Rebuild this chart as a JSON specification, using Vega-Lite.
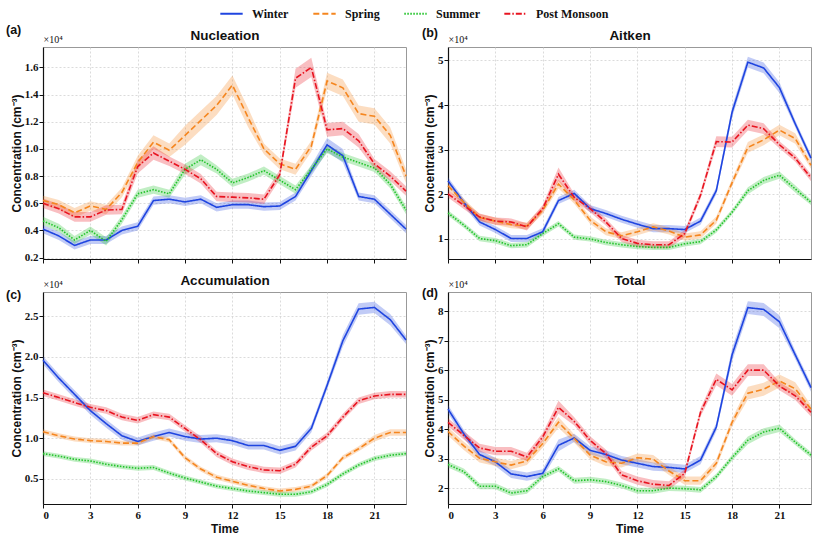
{
"$schema":"https://vega.github.io/schema/vega-lite/v6.json",
"padding":{"left":5,"top":1,"right":0,"bottom":0},
"datasets":{"d":[
{"p":"a","s":"Winter","h":0,"v":0.41,"e":0.03},{"p":"a","s":"Winter","h":1,"v":0.36,"e":0.03},{"p":"a","s":"Winter","h":2,"v":0.29,"e":0.03},{"p":"a","s":"Winter","h":3,"v":0.33,"e":0.03},{"p":"a","s":"Winter","h":4,"v":0.33,"e":0.03},{"p":"a","s":"Winter","h":5,"v":0.40,"e":0.03},{"p":"a","s":"Winter","h":6,"v":0.43,"e":0.03},{"p":"a","s":"Winter","h":7,"v":0.62,"e":0.03},{"p":"a","s":"Winter","h":8,"v":0.63,"e":0.03},{"p":"a","s":"Winter","h":9,"v":0.61,"e":0.03},{"p":"a","s":"Winter","h":10,"v":0.63,"e":0.03},{"p":"a","s":"Winter","h":11,"v":0.57,"e":0.03},{"p":"a","s":"Winter","h":12,"v":0.59,"e":0.03},{"p":"a","s":"Winter","h":13,"v":0.59,"e":0.03},{"p":"a","s":"Winter","h":14,"v":0.575,"e":0.03},{"p":"a","s":"Winter","h":15,"v":0.58,"e":0.03},{"p":"a","s":"Winter","h":16,"v":0.65,"e":0.03},{"p":"a","s":"Winter","h":17,"v":0.84,"e":0.04},{"p":"a","s":"Winter","h":18,"v":1.03,"e":0.05},{"p":"a","s":"Winter","h":19,"v":0.95,"e":0.05},{"p":"a","s":"Winter","h":20,"v":0.65,"e":0.03},{"p":"a","s":"Winter","h":21,"v":0.63,"e":0.03},{"p":"a","s":"Winter","h":22,"v":0.52,"e":0.03},{"p":"a","s":"Winter","h":23,"v":0.41,"e":0.03},
{"p":"a","s":"Spring","h":0,"v":0.62,"e":0.035},{"p":"a","s":"Spring","h":1,"v":0.59,"e":0.035},{"p":"a","s":"Spring","h":2,"v":0.53,"e":0.035},{"p":"a","s":"Spring","h":3,"v":0.58,"e":0.035},{"p":"a","s":"Spring","h":4,"v":0.555,"e":0.035},{"p":"a","s":"Spring","h":5,"v":0.68,"e":0.035},{"p":"a","s":"Spring","h":6,"v":0.90,"e":0.05},{"p":"a","s":"Spring","h":7,"v":1.05,"e":0.05},{"p":"a","s":"Spring","h":8,"v":0.99,"e":0.05},{"p":"a","s":"Spring","h":9,"v":1.10,"e":0.07},{"p":"a","s":"Spring","h":10,"v":1.21,"e":0.07},{"p":"a","s":"Spring","h":11,"v":1.32,"e":0.07},{"p":"a","s":"Spring","h":12,"v":1.47,"e":0.07},{"p":"a","s":"Spring","h":13,"v":1.23,"e":0.07},{"p":"a","s":"Spring","h":14,"v":1.00,"e":0.04},{"p":"a","s":"Spring","h":15,"v":0.89,"e":0.04},{"p":"a","s":"Spring","h":16,"v":0.85,"e":0.04},{"p":"a","s":"Spring","h":17,"v":1.02,"e":0.04},{"p":"a","s":"Spring","h":18,"v":1.50,"e":0.06},{"p":"a","s":"Spring","h":19,"v":1.45,"e":0.06},{"p":"a","s":"Spring","h":20,"v":1.26,"e":0.06},{"p":"a","s":"Spring","h":21,"v":1.24,"e":0.06},{"p":"a","s":"Spring","h":22,"v":1.10,"e":0.06},{"p":"a","s":"Spring","h":23,"v":0.80,"e":0.05},
{"p":"a","s":"Summer","h":0,"v":0.47,"e":0.03},{"p":"a","s":"Summer","h":1,"v":0.42,"e":0.03},{"p":"a","s":"Summer","h":2,"v":0.33,"e":0.03},{"p":"a","s":"Summer","h":3,"v":0.40,"e":0.03},{"p":"a","s":"Summer","h":4,"v":0.32,"e":0.03},{"p":"a","s":"Summer","h":5,"v":0.48,"e":0.03},{"p":"a","s":"Summer","h":6,"v":0.67,"e":0.03},{"p":"a","s":"Summer","h":7,"v":0.70,"e":0.03},{"p":"a","s":"Summer","h":8,"v":0.67,"e":0.03},{"p":"a","s":"Summer","h":9,"v":0.85,"e":0.04},{"p":"a","s":"Summer","h":10,"v":0.92,"e":0.04},{"p":"a","s":"Summer","h":11,"v":0.85,"e":0.03},{"p":"a","s":"Summer","h":12,"v":0.75,"e":0.03},{"p":"a","s":"Summer","h":13,"v":0.79,"e":0.03},{"p":"a","s":"Summer","h":14,"v":0.84,"e":0.03},{"p":"a","s":"Summer","h":15,"v":0.77,"e":0.03},{"p":"a","s":"Summer","h":16,"v":0.70,"e":0.03},{"p":"a","s":"Summer","h":17,"v":0.85,"e":0.03},{"p":"a","s":"Summer","h":18,"v":1.00,"e":0.03},{"p":"a","s":"Summer","h":19,"v":0.94,"e":0.03},{"p":"a","s":"Summer","h":20,"v":0.90,"e":0.03},{"p":"a","s":"Summer","h":21,"v":0.86,"e":0.03},{"p":"a","s":"Summer","h":22,"v":0.74,"e":0.03},{"p":"a","s":"Summer","h":23,"v":0.55,"e":0.03},
{"p":"a","s":"Post Monsoon","h":0,"v":0.60,"e":0.035},{"p":"a","s":"Post Monsoon","h":1,"v":0.56,"e":0.035},{"p":"a","s":"Post Monsoon","h":2,"v":0.50,"e":0.035},{"p":"a","s":"Post Monsoon","h":3,"v":0.50,"e":0.035},{"p":"a","s":"Post Monsoon","h":4,"v":0.55,"e":0.035},{"p":"a","s":"Post Monsoon","h":5,"v":0.555,"e":0.035},{"p":"a","s":"Post Monsoon","h":6,"v":0.87,"e":0.05},{"p":"a","s":"Post Monsoon","h":7,"v":0.97,"e":0.05},{"p":"a","s":"Post Monsoon","h":8,"v":0.91,"e":0.035},{"p":"a","s":"Post Monsoon","h":9,"v":0.85,"e":0.035},{"p":"a","s":"Post Monsoon","h":10,"v":0.78,"e":0.035},{"p":"a","s":"Post Monsoon","h":11,"v":0.65,"e":0.035},{"p":"a","s":"Post Monsoon","h":12,"v":0.645,"e":0.035},{"p":"a","s":"Post Monsoon","h":13,"v":0.64,"e":0.035},{"p":"a","s":"Post Monsoon","h":14,"v":0.63,"e":0.035},{"p":"a","s":"Post Monsoon","h":15,"v":0.81,"e":0.035},{"p":"a","s":"Post Monsoon","h":16,"v":1.52,"e":0.07},{"p":"a","s":"Post Monsoon","h":17,"v":1.60,"e":0.07},{"p":"a","s":"Post Monsoon","h":18,"v":1.14,"e":0.05},{"p":"a","s":"Post Monsoon","h":19,"v":1.15,"e":0.05},{"p":"a","s":"Post Monsoon","h":20,"v":1.06,"e":0.05},{"p":"a","s":"Post Monsoon","h":21,"v":0.89,"e":0.035},{"p":"a","s":"Post Monsoon","h":22,"v":0.80,"e":0.035},{"p":"a","s":"Post Monsoon","h":23,"v":0.69,"e":0.035},
{"p":"b","s":"Winter","h":0,"v":2.30,"e":0.08},{"p":"b","s":"Winter","h":1,"v":1.82,"e":0.08},{"p":"b","s":"Winter","h":2,"v":1.38,"e":0.08},{"p":"b","s":"Winter","h":3,"v":1.21,"e":0.08},{"p":"b","s":"Winter","h":4,"v":1.01,"e":0.08},{"p":"b","s":"Winter","h":5,"v":1.01,"e":0.08},{"p":"b","s":"Winter","h":6,"v":1.16,"e":0.08},{"p":"b","s":"Winter","h":7,"v":1.86,"e":0.08},{"p":"b","s":"Winter","h":8,"v":2.02,"e":0.08},{"p":"b","s":"Winter","h":9,"v":1.68,"e":0.08},{"p":"b","s":"Winter","h":10,"v":1.57,"e":0.08},{"p":"b","s":"Winter","h":11,"v":1.44,"e":0.08},{"p":"b","s":"Winter","h":12,"v":1.33,"e":0.08},{"p":"b","s":"Winter","h":13,"v":1.23,"e":0.08},{"p":"b","s":"Winter","h":14,"v":1.23,"e":0.08},{"p":"b","s":"Winter","h":15,"v":1.21,"e":0.08},{"p":"b","s":"Winter","h":16,"v":1.40,"e":0.08},{"p":"b","s":"Winter","h":17,"v":2.08,"e":0.08},{"p":"b","s":"Winter","h":18,"v":3.84,"e":0.12},{"p":"b","s":"Winter","h":19,"v":4.96,"e":0.12},{"p":"b","s":"Winter","h":20,"v":4.83,"e":0.12},{"p":"b","s":"Winter","h":21,"v":4.39,"e":0.12},{"p":"b","s":"Winter","h":22,"v":3.58,"e":0.08},{"p":"b","s":"Winter","h":23,"v":2.81,"e":0.08},
{"p":"b","s":"Spring","h":0,"v":2.19,"e":0.08},{"p":"b","s":"Spring","h":1,"v":1.82,"e":0.08},{"p":"b","s":"Spring","h":2,"v":1.48,"e":0.08},{"p":"b","s":"Spring","h":3,"v":1.40,"e":0.08},{"p":"b","s":"Spring","h":4,"v":1.32,"e":0.08},{"p":"b","s":"Spring","h":5,"v":1.29,"e":0.08},{"p":"b","s":"Spring","h":6,"v":1.64,"e":0.08},{"p":"b","s":"Spring","h":7,"v":2.23,"e":0.1},{"p":"b","s":"Spring","h":8,"v":1.87,"e":0.08},{"p":"b","s":"Spring","h":9,"v":1.42,"e":0.08},{"p":"b","s":"Spring","h":10,"v":1.16,"e":0.08},{"p":"b","s":"Spring","h":11,"v":1.07,"e":0.08},{"p":"b","s":"Spring","h":12,"v":1.16,"e":0.08},{"p":"b","s":"Spring","h":13,"v":1.27,"e":0.08},{"p":"b","s":"Spring","h":14,"v":1.18,"e":0.08},{"p":"b","s":"Spring","h":15,"v":1.04,"e":0.08},{"p":"b","s":"Spring","h":16,"v":1.09,"e":0.08},{"p":"b","s":"Spring","h":17,"v":1.42,"e":0.08},{"p":"b","s":"Spring","h":18,"v":2.26,"e":0.08},{"p":"b","s":"Spring","h":19,"v":3.05,"e":0.12},{"p":"b","s":"Spring","h":20,"v":3.22,"e":0.12},{"p":"b","s":"Spring","h":21,"v":3.44,"e":0.12},{"p":"b","s":"Spring","h":22,"v":3.25,"e":0.12},{"p":"b","s":"Spring","h":23,"v":2.65,"e":0.08},
{"p":"b","s":"Summer","h":0,"v":1.58,"e":0.06},{"p":"b","s":"Summer","h":1,"v":1.31,"e":0.06},{"p":"b","s":"Summer","h":2,"v":1.01,"e":0.06},{"p":"b","s":"Summer","h":3,"v":0.96,"e":0.06},{"p":"b","s":"Summer","h":4,"v":0.85,"e":0.06},{"p":"b","s":"Summer","h":5,"v":0.87,"e":0.06},{"p":"b","s":"Summer","h":6,"v":1.12,"e":0.06},{"p":"b","s":"Summer","h":7,"v":1.34,"e":0.06},{"p":"b","s":"Summer","h":8,"v":1.04,"e":0.06},{"p":"b","s":"Summer","h":9,"v":1.00,"e":0.06},{"p":"b","s":"Summer","h":10,"v":0.92,"e":0.06},{"p":"b","s":"Summer","h":11,"v":0.87,"e":0.06},{"p":"b","s":"Summer","h":12,"v":0.83,"e":0.06},{"p":"b","s":"Summer","h":13,"v":0.81,"e":0.06},{"p":"b","s":"Summer","h":14,"v":0.81,"e":0.06},{"p":"b","s":"Summer","h":15,"v":0.89,"e":0.06},{"p":"b","s":"Summer","h":16,"v":0.94,"e":0.06},{"p":"b","s":"Summer","h":17,"v":1.20,"e":0.06},{"p":"b","s":"Summer","h":18,"v":1.60,"e":0.06},{"p":"b","s":"Summer","h":19,"v":2.08,"e":0.08},{"p":"b","s":"Summer","h":20,"v":2.31,"e":0.08},{"p":"b","s":"Summer","h":21,"v":2.43,"e":0.08},{"p":"b","s":"Summer","h":22,"v":2.12,"e":0.08},{"p":"b","s":"Summer","h":23,"v":1.82,"e":0.06},
{"p":"b","s":"Post Monsoon","h":0,"v":2.01,"e":0.08},{"p":"b","s":"Post Monsoon","h":1,"v":1.75,"e":0.08},{"p":"b","s":"Post Monsoon","h":2,"v":1.49,"e":0.08},{"p":"b","s":"Post Monsoon","h":3,"v":1.40,"e":0.08},{"p":"b","s":"Post Monsoon","h":4,"v":1.38,"e":0.08},{"p":"b","s":"Post Monsoon","h":5,"v":1.27,"e":0.08},{"p":"b","s":"Post Monsoon","h":6,"v":1.68,"e":0.08},{"p":"b","s":"Post Monsoon","h":7,"v":2.45,"e":0.15},{"p":"b","s":"Post Monsoon","h":8,"v":1.93,"e":0.08},{"p":"b","s":"Post Monsoon","h":9,"v":1.68,"e":0.08},{"p":"b","s":"Post Monsoon","h":10,"v":1.38,"e":0.08},{"p":"b","s":"Post Monsoon","h":11,"v":1.01,"e":0.08},{"p":"b","s":"Post Monsoon","h":12,"v":0.90,"e":0.08},{"p":"b","s":"Post Monsoon","h":13,"v":0.87,"e":0.08},{"p":"b","s":"Post Monsoon","h":14,"v":0.87,"e":0.08},{"p":"b","s":"Post Monsoon","h":15,"v":1.12,"e":0.08},{"p":"b","s":"Post Monsoon","h":16,"v":1.98,"e":0.08},{"p":"b","s":"Post Monsoon","h":17,"v":3.18,"e":0.12},{"p":"b","s":"Post Monsoon","h":18,"v":3.17,"e":0.12},{"p":"b","s":"Post Monsoon","h":19,"v":3.55,"e":0.12},{"p":"b","s":"Post Monsoon","h":20,"v":3.47,"e":0.12},{"p":"b","s":"Post Monsoon","h":21,"v":3.11,"e":0.08},{"p":"b","s":"Post Monsoon","h":22,"v":2.81,"e":0.08},{"p":"b","s":"Post Monsoon","h":23,"v":2.37,"e":0.08},
{"p":"c","s":"Winter","h":0,"v":1.96,"e":0.05},{"p":"c","s":"Winter","h":1,"v":1.74,"e":0.05},{"p":"c","s":"Winter","h":2,"v":1.54,"e":0.05},{"p":"c","s":"Winter","h":3,"v":1.34,"e":0.05},{"p":"c","s":"Winter","h":4,"v":1.18,"e":0.05},{"p":"c","s":"Winter","h":5,"v":1.03,"e":0.05},{"p":"c","s":"Winter","h":6,"v":0.96,"e":0.05},{"p":"c","s":"Winter","h":7,"v":1.02,"e":0.05},{"p":"c","s":"Winter","h":8,"v":1.07,"e":0.05},{"p":"c","s":"Winter","h":9,"v":1.02,"e":0.05},{"p":"c","s":"Winter","h":10,"v":0.99,"e":0.05},{"p":"c","s":"Winter","h":11,"v":1.00,"e":0.05},{"p":"c","s":"Winter","h":12,"v":0.97,"e":0.05},{"p":"c","s":"Winter","h":13,"v":0.91,"e":0.05},{"p":"c","s":"Winter","h":14,"v":0.91,"e":0.05},{"p":"c","s":"Winter","h":15,"v":0.85,"e":0.05},{"p":"c","s":"Winter","h":16,"v":0.90,"e":0.05},{"p":"c","s":"Winter","h":17,"v":1.12,"e":0.05},{"p":"c","s":"Winter","h":18,"v":1.65,"e":0.05},{"p":"c","s":"Winter","h":19,"v":2.20,"e":0.07},{"p":"c","s":"Winter","h":20,"v":2.59,"e":0.07},{"p":"c","s":"Winter","h":21,"v":2.61,"e":0.07},{"p":"c","s":"Winter","h":22,"v":2.46,"e":0.07},{"p":"c","s":"Winter","h":23,"v":2.21,"e":0.05},
{"p":"c","s":"Spring","h":0,"v":1.08,"e":0.03},{"p":"c","s":"Spring","h":1,"v":1.03,"e":0.03},{"p":"c","s":"Spring","h":2,"v":0.99,"e":0.03},{"p":"c","s":"Spring","h":3,"v":0.97,"e":0.03},{"p":"c","s":"Spring","h":4,"v":0.96,"e":0.03},{"p":"c","s":"Spring","h":5,"v":0.94,"e":0.03},{"p":"c","s":"Spring","h":6,"v":0.94,"e":0.03},{"p":"c","s":"Spring","h":7,"v":1.02,"e":0.03},{"p":"c","s":"Spring","h":8,"v":0.98,"e":0.03},{"p":"c","s":"Spring","h":9,"v":0.76,"e":0.03},{"p":"c","s":"Spring","h":10,"v":0.62,"e":0.03},{"p":"c","s":"Spring","h":11,"v":0.52,"e":0.03},{"p":"c","s":"Spring","h":12,"v":0.47,"e":0.03},{"p":"c","s":"Spring","h":13,"v":0.42,"e":0.03},{"p":"c","s":"Spring","h":14,"v":0.38,"e":0.03},{"p":"c","s":"Spring","h":15,"v":0.35,"e":0.03},{"p":"c","s":"Spring","h":16,"v":0.37,"e":0.03},{"p":"c","s":"Spring","h":17,"v":0.41,"e":0.03},{"p":"c","s":"Spring","h":18,"v":0.54,"e":0.03},{"p":"c","s":"Spring","h":19,"v":0.76,"e":0.03},{"p":"c","s":"Spring","h":20,"v":0.87,"e":0.03},{"p":"c","s":"Spring","h":21,"v":1.00,"e":0.04},{"p":"c","s":"Spring","h":22,"v":1.07,"e":0.04},{"p":"c","s":"Spring","h":23,"v":1.07,"e":0.04},
{"p":"c","s":"Summer","h":0,"v":0.81,"e":0.03},{"p":"c","s":"Summer","h":1,"v":0.78,"e":0.03},{"p":"c","s":"Summer","h":2,"v":0.74,"e":0.03},{"p":"c","s":"Summer","h":3,"v":0.72,"e":0.03},{"p":"c","s":"Summer","h":4,"v":0.68,"e":0.03},{"p":"c","s":"Summer","h":5,"v":0.65,"e":0.03},{"p":"c","s":"Summer","h":6,"v":0.63,"e":0.03},{"p":"c","s":"Summer","h":7,"v":0.64,"e":0.03},{"p":"c","s":"Summer","h":8,"v":0.57,"e":0.03},{"p":"c","s":"Summer","h":9,"v":0.51,"e":0.03},{"p":"c","s":"Summer","h":10,"v":0.46,"e":0.03},{"p":"c","s":"Summer","h":11,"v":0.41,"e":0.03},{"p":"c","s":"Summer","h":12,"v":0.38,"e":0.03},{"p":"c","s":"Summer","h":13,"v":0.35,"e":0.03},{"p":"c","s":"Summer","h":14,"v":0.33,"e":0.03},{"p":"c","s":"Summer","h":15,"v":0.31,"e":0.03},{"p":"c","s":"Summer","h":16,"v":0.31,"e":0.03},{"p":"c","s":"Summer","h":17,"v":0.34,"e":0.03},{"p":"c","s":"Summer","h":18,"v":0.43,"e":0.03},{"p":"c","s":"Summer","h":19,"v":0.56,"e":0.03},{"p":"c","s":"Summer","h":20,"v":0.67,"e":0.03},{"p":"c","s":"Summer","h":21,"v":0.75,"e":0.03},{"p":"c","s":"Summer","h":22,"v":0.79,"e":0.03},{"p":"c","s":"Summer","h":23,"v":0.81,"e":0.03},
{"p":"c","s":"Post Monsoon","h":0,"v":1.56,"e":0.04},{"p":"c","s":"Post Monsoon","h":1,"v":1.50,"e":0.04},{"p":"c","s":"Post Monsoon","h":2,"v":1.44,"e":0.04},{"p":"c","s":"Post Monsoon","h":3,"v":1.38,"e":0.04},{"p":"c","s":"Post Monsoon","h":4,"v":1.34,"e":0.04},{"p":"c","s":"Post Monsoon","h":5,"v":1.26,"e":0.04},{"p":"c","s":"Post Monsoon","h":6,"v":1.22,"e":0.04},{"p":"c","s":"Post Monsoon","h":7,"v":1.29,"e":0.04},{"p":"c","s":"Post Monsoon","h":8,"v":1.26,"e":0.04},{"p":"c","s":"Post Monsoon","h":9,"v":1.12,"e":0.04},{"p":"c","s":"Post Monsoon","h":10,"v":0.98,"e":0.04},{"p":"c","s":"Post Monsoon","h":11,"v":0.81,"e":0.04},{"p":"c","s":"Post Monsoon","h":12,"v":0.71,"e":0.04},{"p":"c","s":"Post Monsoon","h":13,"v":0.65,"e":0.04},{"p":"c","s":"Post Monsoon","h":14,"v":0.61,"e":0.04},{"p":"c","s":"Post Monsoon","h":15,"v":0.60,"e":0.04},{"p":"c","s":"Post Monsoon","h":16,"v":0.68,"e":0.04},{"p":"c","s":"Post Monsoon","h":17,"v":0.89,"e":0.04},{"p":"c","s":"Post Monsoon","h":18,"v":1.03,"e":0.04},{"p":"c","s":"Post Monsoon","h":19,"v":1.26,"e":0.04},{"p":"c","s":"Post Monsoon","h":20,"v":1.46,"e":0.04},{"p":"c","s":"Post Monsoon","h":21,"v":1.52,"e":0.04},{"p":"c","s":"Post Monsoon","h":22,"v":1.54,"e":0.04},{"p":"c","s":"Post Monsoon","h":23,"v":1.54,"e":0.04},
{"p":"d","s":"Winter","h":0,"v":4.68,"e":0.14},{"p":"d","s":"Winter","h":1,"v":3.84,"e":0.14},{"p":"d","s":"Winter","h":2,"v":3.14,"e":0.14},{"p":"d","s":"Winter","h":3,"v":2.89,"e":0.14},{"p":"d","s":"Winter","h":4,"v":2.48,"e":0.14},{"p":"d","s":"Winter","h":5,"v":2.39,"e":0.14},{"p":"d","s":"Winter","h":6,"v":2.50,"e":0.14},{"p":"d","s":"Winter","h":7,"v":3.45,"e":0.2},{"p":"d","s":"Winter","h":8,"v":3.70,"e":0.14},{"p":"d","s":"Winter","h":9,"v":3.28,"e":0.14},{"p":"d","s":"Winter","h":10,"v":3.14,"e":0.14},{"p":"d","s":"Winter","h":11,"v":2.95,"e":0.14},{"p":"d","s":"Winter","h":12,"v":2.84,"e":0.14},{"p":"d","s":"Winter","h":13,"v":2.73,"e":0.14},{"p":"d","s":"Winter","h":14,"v":2.70,"e":0.14},{"p":"d","s":"Winter","h":15,"v":2.65,"e":0.14},{"p":"d","s":"Winter","h":16,"v":2.95,"e":0.14},{"p":"d","s":"Winter","h":17,"v":4.07,"e":0.14},{"p":"d","s":"Winter","h":18,"v":6.52,"e":0.22},{"p":"d","s":"Winter","h":19,"v":8.12,"e":0.22},{"p":"d","s":"Winter","h":20,"v":8.06,"e":0.22},{"p":"d","s":"Winter","h":21,"v":7.64,"e":0.22},{"p":"d","s":"Winter","h":22,"v":6.52,"e":0.14},{"p":"d","s":"Winter","h":23,"v":5.41,"e":0.14},
{"p":"d","s":"Spring","h":0,"v":3.92,"e":0.14},{"p":"d","s":"Spring","h":1,"v":3.43,"e":0.14},{"p":"d","s":"Spring","h":2,"v":3.01,"e":0.14},{"p":"d","s":"Spring","h":3,"v":2.89,"e":0.14},{"p":"d","s":"Spring","h":4,"v":2.78,"e":0.14},{"p":"d","s":"Spring","h":5,"v":2.92,"e":0.14},{"p":"d","s":"Spring","h":6,"v":3.51,"e":0.14},{"p":"d","s":"Spring","h":7,"v":4.23,"e":0.18},{"p":"d","s":"Spring","h":8,"v":3.68,"e":0.14},{"p":"d","s":"Spring","h":9,"v":3.12,"e":0.14},{"p":"d","s":"Spring","h":10,"v":2.89,"e":0.14},{"p":"d","s":"Spring","h":11,"v":2.84,"e":0.14},{"p":"d","s":"Spring","h":12,"v":3.03,"e":0.14},{"p":"d","s":"Spring","h":13,"v":2.98,"e":0.14},{"p":"d","s":"Spring","h":14,"v":2.58,"e":0.14},{"p":"d","s":"Spring","h":15,"v":2.25,"e":0.14},{"p":"d","s":"Spring","h":16,"v":2.25,"e":0.14},{"p":"d","s":"Spring","h":17,"v":2.84,"e":0.14},{"p":"d","s":"Spring","h":18,"v":4.23,"e":0.14},{"p":"d","s":"Spring","h":19,"v":5.22,"e":0.22},{"p":"d","s":"Spring","h":20,"v":5.35,"e":0.22},{"p":"d","s":"Spring","h":21,"v":5.63,"e":0.22},{"p":"d","s":"Spring","h":22,"v":5.37,"e":0.22},{"p":"d","s":"Spring","h":23,"v":4.68,"e":0.14},
{"p":"d","s":"Summer","h":0,"v":2.80,"e":0.1},{"p":"d","s":"Summer","h":1,"v":2.56,"e":0.1},{"p":"d","s":"Summer","h":2,"v":2.06,"e":0.1},{"p":"d","s":"Summer","h":3,"v":2.06,"e":0.1},{"p":"d","s":"Summer","h":4,"v":1.83,"e":0.1},{"p":"d","s":"Summer","h":5,"v":1.91,"e":0.1},{"p":"d","s":"Summer","h":6,"v":2.39,"e":0.1},{"p":"d","s":"Summer","h":7,"v":2.65,"e":0.1},{"p":"d","s":"Summer","h":8,"v":2.25,"e":0.1},{"p":"d","s":"Summer","h":9,"v":2.28,"e":0.1},{"p":"d","s":"Summer","h":10,"v":2.22,"e":0.1},{"p":"d","s":"Summer","h":11,"v":2.09,"e":0.1},{"p":"d","s":"Summer","h":12,"v":1.91,"e":0.1},{"p":"d","s":"Summer","h":13,"v":1.91,"e":0.1},{"p":"d","s":"Summer","h":14,"v":2.00,"e":0.1},{"p":"d","s":"Summer","h":15,"v":1.98,"e":0.1},{"p":"d","s":"Summer","h":16,"v":1.94,"e":0.1},{"p":"d","s":"Summer","h":17,"v":2.39,"e":0.1},{"p":"d","s":"Summer","h":18,"v":3.03,"e":0.1},{"p":"d","s":"Summer","h":19,"v":3.62,"e":0.13},{"p":"d","s":"Summer","h":20,"v":3.90,"e":0.13},{"p":"d","s":"Summer","h":21,"v":4.03,"e":0.13},{"p":"d","s":"Summer","h":22,"v":3.56,"e":0.1},{"p":"d","s":"Summer","h":23,"v":3.12,"e":0.1},
{"p":"d","s":"Post Monsoon","h":0,"v":4.23,"e":0.14},{"p":"d","s":"Post Monsoon","h":1,"v":3.79,"e":0.14},{"p":"d","s":"Post Monsoon","h":2,"v":3.36,"e":0.14},{"p":"d","s":"Post Monsoon","h":3,"v":3.25,"e":0.14},{"p":"d","s":"Post Monsoon","h":4,"v":3.25,"e":0.14},{"p":"d","s":"Post Monsoon","h":5,"v":3.06,"e":0.14},{"p":"d","s":"Post Monsoon","h":6,"v":3.73,"e":0.14},{"p":"d","s":"Post Monsoon","h":7,"v":4.74,"e":0.22},{"p":"d","s":"Post Monsoon","h":8,"v":4.26,"e":0.14},{"p":"d","s":"Post Monsoon","h":9,"v":3.62,"e":0.14},{"p":"d","s":"Post Monsoon","h":10,"v":3.17,"e":0.14},{"p":"d","s":"Post Monsoon","h":11,"v":2.45,"e":0.14},{"p":"d","s":"Post Monsoon","h":12,"v":2.25,"e":0.14},{"p":"d","s":"Post Monsoon","h":13,"v":2.13,"e":0.14},{"p":"d","s":"Post Monsoon","h":14,"v":2.09,"e":0.14},{"p":"d","s":"Post Monsoon","h":15,"v":2.50,"e":0.14},{"p":"d","s":"Post Monsoon","h":16,"v":4.57,"e":0.14},{"p":"d","s":"Post Monsoon","h":17,"v":5.69,"e":0.2},{"p":"d","s":"Post Monsoon","h":18,"v":5.33,"e":0.2},{"p":"d","s":"Post Monsoon","h":19,"v":6.00,"e":0.2},{"p":"d","s":"Post Monsoon","h":20,"v":6.00,"e":0.2},{"p":"d","s":"Post Monsoon","h":21,"v":5.46,"e":0.14},{"p":"d","s":"Post Monsoon","h":22,"v":5.13,"e":0.14},{"p":"d","s":"Post Monsoon","h":23,"v":4.57,"e":0.14}
]},
"data":{"name":"d"},
"spacing":8,
"vconcat":[
{"hconcat":[
{"width":363,"height":212,
 "title":{"text":"(a)","anchor":"start","frame":"group","dx":-37,"offset":-8},
 "transform":[{"filter":"datum.p === 'a'"}],
 "layer":[
  {"mark":{"type":"errorband","opacity":0.28},
   "encoding":{
    "x":{"field":"h","type":"quantitative","scale":{"domain":[0,23],"nice":false,"zero":false},"axis":{"values":[0,3,6,9,12,15,18,21],"labels":false,"title":null,"grid":true}},
    "y":{"field":"v","type":"quantitative","scale":{"domain":[0.19,1.75],"nice":false,"zero":false},"axis":{"values":[0.2,0.4,0.6,0.8,1.0,1.2,1.4,1.6],"format":".1f","title":"Concentration (cm⁻³)","grid":true}},
    "yError":{"field":"e"},
    "color":{"field":"s","type":"nominal","scale":{"domain":["Winter","Spring","Summer","Post Monsoon"],"range":["#1f45e0","#f5861f","#22c32a","#e81420"]},"legend":{"title":null,"symbolType":"stroke","symbolOpacity":1}}}},
  {"mark":{"type":"line","strokeWidth":1.6},
   "encoding":{
    "x":{"field":"h","type":"quantitative","axis":{"orient":"top","title":"Nucleation","labels":false,"ticks":false,"domain":false,"grid":false,"titleFontSize":13.5,"titlePadding":5}},
    "y":{"field":"v","type":"quantitative","axis":{"orient":"right","title":"×10⁴","labels":false,"ticks":false,"domain":false,"grid":false,"titleAngle":0,"titleX":-363,"titleY":-3,"titleAlign":"left","titleBaseline":"bottom","titleFont":"Liberation Serif","titleFontSize":10,"titleFontWeight":"normal"}},
    "color":{"field":"s","type":"nominal","scale":{"domain":["Winter","Spring","Summer","Post Monsoon"],"range":["#1f45e0","#f5861f","#22c32a","#e81420"]},"legend":{"title":null,"symbolType":"stroke","symbolOpacity":1}},
    "strokeDash":{"field":"s","type":"nominal","scale":{"domain":["Winter","Spring","Summer","Post Monsoon"],"range":[[1,0],[6,3],[1.5,1.5],[6,2,1.5,2]]},"legend":{"title":null,"symbolType":"stroke","symbolOpacity":1}}}}
 ],
 "resolve":{"axis":{"x":"independent","y":"independent"}}},
{"width":363,"height":212,
 "title":{"text":"(b)","anchor":"start","frame":"group","dx":-26,"offset":-11},
 "transform":[{"filter":"datum.p === 'b'"}],
 "layer":[
  {"mark":{"type":"errorband","opacity":0.28},
   "encoding":{
    "x":{"field":"h","type":"quantitative","scale":{"domain":[0,23],"nice":false,"zero":false},"axis":{"values":[0,3,6,9,12,15,18,21],"labels":false,"title":null,"grid":true}},
    "y":{"field":"v","type":"quantitative","scale":{"domain":[0.55,5.3],"nice":false,"zero":false},"axis":{"values":[1,2,3,4,5],"format":"d","title":"Concentration (cm⁻³)","grid":true}},
    "yError":{"field":"e"},
    "color":{"field":"s","type":"nominal","scale":{"domain":["Winter","Spring","Summer","Post Monsoon"],"range":["#1f45e0","#f5861f","#22c32a","#e81420"]},"legend":{"title":null,"symbolType":"stroke","symbolOpacity":1}}}},
  {"mark":{"type":"line","strokeWidth":1.6},
   "encoding":{
    "x":{"field":"h","type":"quantitative","axis":{"orient":"top","title":"Aitken","labels":false,"ticks":false,"domain":false,"grid":false,"titleFontSize":13.5,"titlePadding":5}},
    "y":{"field":"v","type":"quantitative","axis":{"orient":"right","title":"×10⁴","labels":false,"ticks":false,"domain":false,"grid":false,"titleAngle":0,"titleX":-363,"titleY":-3,"titleAlign":"left","titleBaseline":"bottom","titleFont":"Liberation Serif","titleFontSize":10,"titleFontWeight":"normal"}},
    "color":{"field":"s","type":"nominal","scale":{"domain":["Winter","Spring","Summer","Post Monsoon"],"range":["#1f45e0","#f5861f","#22c32a","#e81420"]},"legend":{"title":null,"symbolType":"stroke","symbolOpacity":1}},
    "strokeDash":{"field":"s","type":"nominal","scale":{"domain":["Winter","Spring","Summer","Post Monsoon"],"range":[[1,0],[6,3],[1.5,1.5],[6,2,1.5,2]]},"legend":{"title":null,"symbolType":"stroke","symbolOpacity":1}}}}
 ],
 "resolve":{"axis":{"x":"independent","y":"independent"}}}
],"spacing":11},
{"hconcat":[
{"width":363,"height":212,
 "title":{"text":"(c)","anchor":"start","frame":"group","dx":-37,"offset":-28},
 "transform":[{"filter":"datum.p === 'c'"}],
 "layer":[
  {"mark":{"type":"errorband","opacity":0.28},
   "encoding":{
    "x":{"field":"h","type":"quantitative","scale":{"domain":[0,23],"nice":false,"zero":false},"axis":{"values":[0,3,6,9,12,15,18,21],"format":"d","title":"Time","titlePadding":3,"grid":true}},
    "y":{"field":"v","type":"quantitative","scale":{"domain":[0.19,2.8],"nice":false,"zero":false},"axis":{"values":[0.5,1.0,1.5,2.0,2.5],"format":".1f","title":"Concentration (cm⁻³)","grid":true}},
    "yError":{"field":"e"},
    "color":{"field":"s","type":"nominal","scale":{"domain":["Winter","Spring","Summer","Post Monsoon"],"range":["#1f45e0","#f5861f","#22c32a","#e81420"]},"legend":{"title":null,"symbolType":"stroke","symbolOpacity":1}}}},
  {"mark":{"type":"line","strokeWidth":1.6},
   "encoding":{
    "x":{"field":"h","type":"quantitative","axis":{"orient":"top","title":"Accumulation","labels":false,"ticks":false,"domain":false,"grid":false,"titleFontSize":13.5,"titlePadding":5}},
    "y":{"field":"v","type":"quantitative","axis":{"orient":"right","title":"×10⁴","labels":false,"ticks":false,"domain":false,"grid":false,"titleAngle":0,"titleX":-363,"titleY":-3,"titleAlign":"left","titleBaseline":"bottom","titleFont":"Liberation Serif","titleFontSize":10,"titleFontWeight":"normal"}},
    "color":{"field":"s","type":"nominal","scale":{"domain":["Winter","Spring","Summer","Post Monsoon"],"range":["#1f45e0","#f5861f","#22c32a","#e81420"]},"legend":{"title":null,"symbolType":"stroke","symbolOpacity":1}},
    "strokeDash":{"field":"s","type":"nominal","scale":{"domain":["Winter","Spring","Summer","Post Monsoon"],"range":[[1,0],[6,3],[1.5,1.5],[6,2,1.5,2]]},"legend":{"title":null,"symbolType":"stroke","symbolOpacity":1}}}}
 ],
 "resolve":{"axis":{"x":"independent","y":"independent"}}},
{"width":363,"height":212,
 "title":{"text":"(d)","anchor":"start","frame":"group","dx":-26,"offset":-26},
 "transform":[{"filter":"datum.p === 'd'"}],
 "layer":[
  {"mark":{"type":"errorband","opacity":0.28},
   "encoding":{
    "x":{"field":"h","type":"quantitative","scale":{"domain":[0,23],"nice":false,"zero":false},"axis":{"values":[0,3,6,9,12,15,18,21],"format":"d","title":"Time","titlePadding":3,"grid":true}},
    "y":{"field":"v","type":"quantitative","scale":{"domain":[1.46,8.65],"nice":false,"zero":false},"axis":{"values":[2,3,4,5,6,7,8],"format":"d","title":"Concentration (cm⁻³)","grid":true}},
    "yError":{"field":"e"},
    "color":{"field":"s","type":"nominal","scale":{"domain":["Winter","Spring","Summer","Post Monsoon"],"range":["#1f45e0","#f5861f","#22c32a","#e81420"]},"legend":{"title":null,"symbolType":"stroke","symbolOpacity":1}}}},
  {"mark":{"type":"line","strokeWidth":1.6},
   "encoding":{
    "x":{"field":"h","type":"quantitative","axis":{"orient":"top","title":"Total","labels":false,"ticks":false,"domain":false,"grid":false,"titleFontSize":13.5,"titlePadding":5}},
    "y":{"field":"v","type":"quantitative","axis":{"orient":"right","title":"×10⁴","labels":false,"ticks":false,"domain":false,"grid":false,"titleAngle":0,"titleX":-363,"titleY":-3,"titleAlign":"left","titleBaseline":"bottom","titleFont":"Liberation Serif","titleFontSize":10,"titleFontWeight":"normal"}},
    "color":{"field":"s","type":"nominal","scale":{"domain":["Winter","Spring","Summer","Post Monsoon"],"range":["#1f45e0","#f5861f","#22c32a","#e81420"]},"legend":{"title":null,"symbolType":"stroke","symbolOpacity":1}},
    "strokeDash":{"field":"s","type":"nominal","scale":{"domain":["Winter","Spring","Summer","Post Monsoon"],"range":[[1,0],[6,3],[1.5,1.5],[6,2,1.5,2]]},"legend":{"title":null,"symbolType":"stroke","symbolOpacity":1}}}}
 ],
 "resolve":{"axis":{"x":"independent","y":"independent"}}}
],"spacing":11}
],
"config":{
 "view":{"stroke":"#999","strokeWidth":1},
 "axis":{"labelFont":"Liberation Serif","labelFontWeight":"bold","labelFontSize":11,"labelColor":"#111","titleFont":"Liberation Sans","titleFontWeight":"bold","titleFontSize":12,"titleColor":"#111","tickColor":"#111","tickSize":4,"domainColor":"#111","domainWidth":1.2,"gridColor":"#d2d2d2","gridDash":[2,2],"gridWidth":0.8,"labelPadding":1,"titlePadding":1},
 "title":{"font":"Liberation Sans","fontSize":12.5,"fontWeight":"bold","color":"#111"},
 "legend":{"orient":"none","legendX":176,"legendY":-46,"direction":"horizontal","labelFont":"Liberation Serif","labelFontWeight":"bold","labelFontSize":12,"labelColor":"#111","symbolType":"stroke","symbolSize":500,"symbolStrokeWidth":2,"columnPadding":20,"labelOffset":8}
}
}
